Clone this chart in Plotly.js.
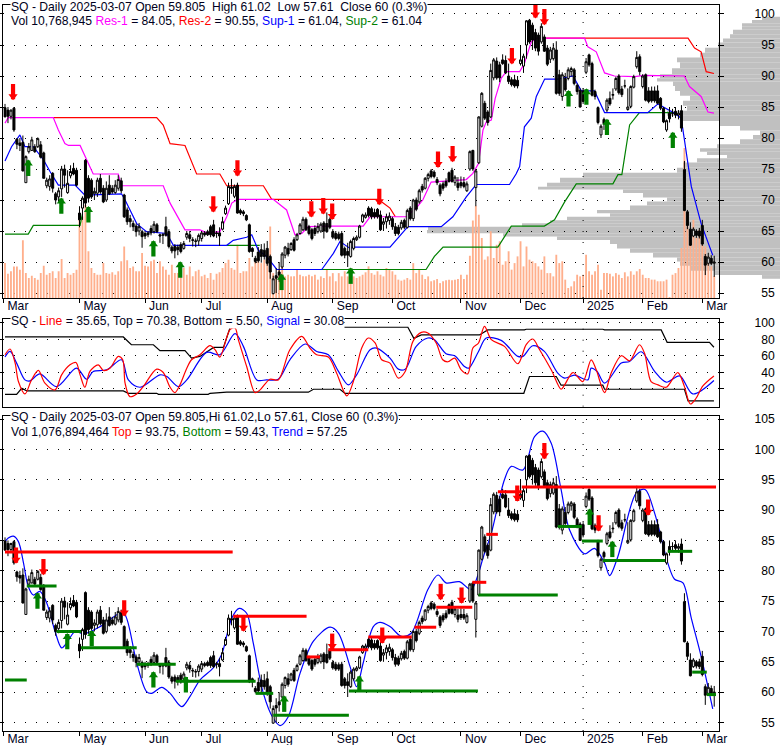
<!DOCTYPE html>
<html><head><meta charset="utf-8">
<script src="https://cdn.plot.ly/plotly-3.0.1.min.js"></script>
<style>html,body{margin:0;padding:0;background:#fff}#c{width:780px;height:745px}</style>
</head><body><div id="c"></div>
<script>
const monthTicks=[-0.5,25,47,66,88,110,130,153,173,194,214,234];
const monthLabels=['Mar','May','Jun','Jul','Aug','Sep','Oct','Nov','Dec','2025','Feb','Mar'];
const opens=[84.9,84.5,83.5,84.8,79.8,79.2,79.3,72.8,77.8,78,
78.6,78.6,78.9,77.6,72.3,72.2,74.3,71,70.5,71.8,
75,71.2,73.9,75.1,74.8,67.9,68.7,76.4,73.5,73.2,
71,71.1,73.5,71.9,70,72.4,71.9,71.2,71.9,73.1,
70.8,68.4,67,66.2,65.8,65,64.9,64.6,64.7,65.4,
64.9,66,64.4,64.3,65.7,64.9,62.4,62.5,62.4,62.8,
62.2,64,64.4,63.6,63.3,63.4,63.8,64.7,64.9,65.7,
66,64.7,64.7,65.3,67.8,69.4,72.1,70.6,72.4,68.3,
68.1,67.5,66,62.2,60.6,61.6,62,61.9,62.2,60.9,
54.9,57.8,58.4,59.2,61.1,62.2,62,63.6,63.6,64.6,
65.2,66.9,65.7,65.2,65.4,64.9,65,66.3,66.2,66.9,
64.9,64.6,64.5,64.6,62.2,61.7,60.9,62.2,63.6,64,
66.5,67.2,68.7,68.6,68,68.5,67.6,66.1,66.5,66.7,
67,65.7,65.6,65.5,66.7,65.6,68.7,67,70,69.7,
72.2,71.9,73.5,74.7,74.5,73.3,72.4,72.6,73,74.4,
74.8,72.8,72.7,72.8,72.8,71.5,75,78,72,76,
81.9,85.6,84.2,83.4,89.7,92.4,91.8,92.6,92.5,90,
89.4,89.4,89.3,92,91.6,95,99,98.2,97,96.6,
95.5,96.3,94.5,92.7,92.8,94.2,90.2,86.7,89.6,89.6,
90.7,91,88.5,87.7,87.6,90.6,93.4,92,87.5,84.9,
80.5,83,84.5,86.4,86.9,87.9,90,87.9,88.4,84.6,
85.1,88.2,91.5,93.1,88.3,90.2,87.6,87.6,87.6,87.6,
86.4,84.8,81.3,84,84,84.3,83.7,84.4,74.9,68.1,
65.3,64.2,65,65,65.9,60.9,59.8,60.6,59.805];
const highs=[85.5,85,84.6,85,80,80,80.4,77.2,79.2,80.2,
79,80.1,79.5,77.8,73.6,74,74.5,71.3,72,75.5,
75.7,74.8,75.6,76,75.2,69,70.6,76.6,74,73.5,
72,73.6,74.2,72.4,73,74,72.4,73.2,74,73.6,
71,68.8,67.6,66.7,66.2,66.3,65.2,65,65,65.9,
66.6,66.3,64.6,64.7,67.3,65.3,62.7,62.9,62.8,63.2,
63.4,65,65,64,63.8,64.6,65,65,65.2,66,
66.8,65,65.6,67.3,69.1,72.8,73.4,72.5,72.8,68.6,
68.4,67.7,66.2,62.4,61,62.4,62.9,63,63.4,61.2,
57.8,59,60,61.6,62.6,63.1,63.2,64,64.7,66.3,
67.3,67.2,66,65.5,65.9,66.3,66.4,66.6,68,67.2,
65.3,65,64.9,65,62.5,63.1,63.6,64.1,64.3,66,
67.8,68,69,68.9,68.6,68.7,68.3,67.1,67.8,68,
67.3,66.3,66,66.8,67,68.6,69,70.2,70.4,71.8,
72.6,73.7,74.4,75,74.8,73.7,72.7,73,73.5,74.6,
75.2,74,73.7,73.8,73.7,73,78,78.1,75,83.5,
87.4,86,84.5,92,92.9,93,92.3,93.5,93.3,92,
89.8,90.2,90,95,93.6,99,99.2,98.6,97.6,97,
98.5,96.7,95,94.7,95.3,95.6,91,90.6,90.5,91.4,
91.5,91.3,88.8,88,88,92.9,93.6,92.3,87.8,85.1,
82.2,83.3,86.4,87.5,88,89.9,90.3,88.4,89.4,88,
88.5,90.2,94,93.5,90.3,90.4,88.2,88.3,88.3,88.5,
86.6,85,83,85,84.7,85,84.5,85.3,76.3,68.4,
66.4,65.6,65.3,65.5,66.8,61.3,61.5,61.1,61.02];
const lows=[83.4,82.4,83,81,78.2,77.9,74.6,72.8,77.5,77.9,
77.6,78.4,76.7,73.5,71.9,71.5,71.2,69.3,69.7,70.5,
72,71,73.5,74,72.2,65.6,66.8,68.8,69.6,70.2,
70,70.5,71,69.5,69.7,70.8,71,71,71.5,71.1,
67.1,66,65.6,65,64.1,64.3,62.3,63.7,64,64.3,
64.6,64.7,63.1,62.9,64.1,62.2,61.4,60.6,61.1,61.4,
62,63.6,63.2,62.5,62.4,62.6,63.3,64.1,64.2,64,
64,63.9,62.6,65.1,67.6,69.2,71,70.3,67.8,67.6,
67.4,66.6,61.5,60.8,59.8,59.9,59.9,60.4,59.4,57.3,
54.8,55,56.8,58.9,60.6,60.9,61.8,61.7,63.4,64.4,
65,65,64.3,63.5,64.2,64.6,64.7,63.8,64.7,65.3,
63.7,63.5,63.5,60.9,60.6,59.2,60.7,61.9,63.4,63.8,
66.3,67,67.2,66.9,67,67,65,65,65.4,66,
65.2,64.2,64.3,65.2,65.3,65.4,66.7,66.6,68.2,69.4,
71.2,71.7,73,73.5,73.5,72.4,70.6,71.5,72,72.8,
72.8,72.3,71.5,71.9,71.9,71.3,74.7,74.7,69,75.8,
81.7,82.9,82,83.2,89.3,89.4,89,91.8,90.3,88.7,
88.3,88.1,88,91.7,90.5,92.8,95.2,94.2,94,93.3,
95.2,93.9,91.6,92.1,92.5,87,86.8,86,87.5,89.3,
89.9,88.5,87,84.9,85.5,90.3,91.5,86.7,86.2,82.2,
80,81.3,84.2,85.2,86.2,87.6,87,86.6,88,84.4,
84.8,88,91.2,90.1,88,85.9,85.6,85.7,85.7,85.4,
84.5,82.4,81,82.5,83.4,83.2,83,81,68.2,65.3,
62.6,64,63.9,63.8,62.6,57.9,59.4,59.5,57.61];
const closes=[83.4,83.5,84.5,81.3,79,78.8,74.7,77,78.6,79.7,
77.8,79.9,76.9,73.5,73.2,73.4,71.9,70,71.5,75,
74,72.7,74.6,74.2,72.4,66.8,70.3,69.5,70.3,70.5,
71.4,73.2,71.3,69.7,71.9,71,71.3,72.4,73.3,71.5,
67.3,66.5,66.5,65.7,64.9,65.7,64.1,64.2,64.4,64.7,
66.1,64.9,64.2,64.4,64.3,62.5,61.8,61.8,62,61.7,
63,64.6,63.8,63.5,63.4,64.3,64.7,64.4,64.4,64.4,
64.2,64.6,64.2,66.5,68.7,72.2,71.9,72.2,67.9,67.9,
67.8,66.8,61.7,61.7,60.1,60.2,60.9,60.9,59.8,58.4,
57.3,57.4,57.9,61.3,62.4,61.3,63,61.9,64.4,66,
66.9,65.2,64.6,63.8,64.6,65.7,66.1,65,64.9,65.6,
64,63.8,63.8,61.1,61.1,61.1,63.3,63.8,64,65.8,
67.6,67.6,67.5,67.3,67.3,67.3,65.2,66.5,67.3,67.4,
65.7,64.6,64.6,66.4,65.6,68.3,67,70,68.5,71.5,
71.6,73.5,74.1,73.8,73.8,72.8,71,71.9,72.3,73,
73,73.7,72,72.3,72.2,72.6,77.8,75,74.7,83.4,
87.2,83.2,82.5,90.9,92.6,89.7,89.7,92,90.5,89.1,
88.6,88.4,88.4,92.6,93.2,98.9,95.5,95.8,94.5,94,
98,94,91.9,94.2,94.5,87.2,87.2,90.2,87.8,91,
91.2,88.8,87.5,85,85.9,92.3,91.8,86.9,86.7,82.5,
81.9,82.3,86.1,85.5,87,89.6,87.3,87,88.4,85,
88.3,89.9,93,90.7,90,86.1,85.9,86,86,85.6,
84.8,82.6,82.8,83.1,84,83.7,84,81.6,68.3,65.9,
62.7,65.3,64.3,64.2,62.9,59.5,60.8,59.8,60];
const volumeMillions=[17.1,11.9,13.1,15.5,15.5,13.9,28.3,12.2,9.8,10.9,
9.8,9,12.2,15.8,11.4,12.2,13.1,9.8,13.1,19.1,
9.8,12.2,11.4,12.2,13.9,39.2,40,45.7,22.9,14.7,
12.2,11.4,11.4,17.1,12.2,11.9,12.6,11.4,13.1,18,
25.3,18.5,14.7,15.5,13.1,13.1,22,15.8,15.5,18,
18.8,12.2,18,15.5,13.9,11.4,16.3,12.2,12.2,15.5,
14.7,11.4,15.5,10.6,13.1,13.9,10.6,11.4,9.8,12.2,
9,11.9,12.6,14.7,17.1,18.8,14.7,13.9,26.1,12.2,
13.1,13.1,19.6,15.5,18,18,17.1,18.8,22.9,35.1,
12.2,10.6,13.9,15.5,10.6,11.4,10.6,10.6,13.9,11.4,
10.6,10.6,11.4,10.6,11.4,9,10.6,9.8,13.9,10.6,
12.2,8.2,12.2,10.6,13.1,10.6,14.7,10.6,9.8,10.6,
11.4,12.6,15.5,12.2,11.4,13.1,11.4,10.6,14.7,13.9,
13.1,11.4,9,8.5,9,9.8,9,17.1,12.2,13.9,
11.4,9.3,10.6,8.2,8.7,9.3,7.3,8.2,8.7,9,
8.7,9,9.3,11.4,9.3,11.4,20.7,38,45.2,40.8,
29.4,18.8,20.4,32.7,19.6,26.1,27.8,16.3,18,22.9,
13.9,17.1,20.4,27.8,15.5,25.3,18.8,18,17.1,15.5,
13.9,20.4,12.2,12.2,10.6,21.2,17.1,18,9,4.9,
5.7,8.2,11.4,10.6,11.4,21.2,13.1,11.4,13.1,16.3,
4.1,12.2,12.2,11.9,10.6,12.2,11.4,9.8,12.6,10.6,
13.1,11.4,13.1,14.2,11.4,9.8,9.8,9,9,8.2,
8.2,8.2,9,0.5,11.4,12.2,14.7,24.5,73.5,41.6,
26.1,38.4,29.4,33.5,26.1,25.3,20.4,15.5,10.77];
const profilePrice=[99.3,98.8,98.2,97.7,97.2,96.3,95.8,95,94.1,93.4,92.6,91.8,90.7,89.9,89.4,88.8,88,87.2,86.4,85.6,84.8,84,83.2,82.3,81.6,80.8,80.2,79.4,78.6,78.1,77.5,77,76.5,75.6,74.8,74,73.2,72.4,71.9,71.5,70.8,70,69.5,68.7,68.1,67.6,67,66.5,66,65.4,64.9,64.4,63.8,63.3,62.5,61.9,61.1,60.4,59.8,59,58.2,57.6];
const profileVolume=[18,28,38,38,47,50,57,62,75,80,103,100,108,120,123,107,105,100,90,97,93,113,98,60,40,20,27,40,63,80,73,53,83,97,103,197,220,233,242,157,137,113,133,150,183,170,213,230,258,352,353,277,223,170,163,150,127,103,100,90,65,18];
const res1Day=[0,1.1,16.2,17.9,20.1,21.3,25.2,26.8,29.6,38,39.1,53.1,55.4,60.4,65.4,67.7,72.1,74.4,76.1,78,90,94.5,97.3,99.6,101.8,108.5,120.2,122.5,134.6,138,140.2,143,154.8,157,158.9,160.4,161.5,163.2,164.5,166.5,168.2,172.7,174.3,176.6,178.3,194.5,195.6,198.4,201.2,204.5,211.3,214.6,228,229.7,233.6,235.9,237.9];
const res1Val=[82.4,83.3,83.3,81.3,79.1,78.8,78.8,77.2,74.2,74.2,72.3,72.3,69.5,65.2,65.2,64.7,64.9,67.3,69.5,70.1,70.1,68.4,64.4,64.6,65.7,65.8,65.8,67.3,67.3,68.7,70,72.9,73.3,74.3,75.9,81.3,82.6,82.9,86.4,89.6,90.7,90.7,92,95.5,96.1,96.1,94.7,93.9,90.5,90,89.9,90.1,90,88.3,86.7,84.2,84];
const res2Day=[16.2,50.9,53.1,55.4,60.4,64.3,72.1,74.4,86.7,89.5,125.3,129.2,131,null,181.6,229.2,231.4,233.6,235.3,237.9];
const res2Val=[83.3,83.3,82.1,79.1,78.8,74.2,74.2,72.3,72.3,70.1,70.1,68.7,67.3,null,96.1,96.1,94.5,93.9,90.7,90.4];
const sup1Day=[0,2.2,5,6.7,9.5,12.9,15.1,17.9,23.5,26.8,39.1,40.3,44.2,47.5,54.3,56.5,74.4,76.6,81.1,82.8,85,87.8,91.2,106.3,110.2,112.4,115.8,116.9,129.2,132.4,135.2,146.4,150.3,154.8,158.1,169.3,171.5,172.7,174.3,176.6,178.3,181.1,185.5,190.6,193.4,197.8,201.2,215.7,219.1,224.7,226.9,228,230.3,233.6,237.5];
const sup1Val=[76.3,78.6,80.5,78.6,78.6,76.5,74.6,72.4,72.4,70.8,71,70,66.2,64.9,64.6,62.7,62.7,63.5,64,64.4,61.9,60.9,58.8,58.8,61.4,63.3,62.2,62.4,62.4,64.1,65.7,65.7,67.3,70.5,72.5,72.5,74.2,75.4,81.8,83.2,86.7,89.5,89.5,90,87.6,87.6,84.1,84.1,85.5,84,83.2,79.7,72.2,66.2,61.1];
const sup2Day=[0,7.8,9.5,25.2,26,null,74.4,85.5,null,106.3,141.3,144.1,147,165.4,169.9,181,184.4,187.8,191.7,204,205.7,207,209.6,212.9,224.7];
const sup2Val=[64.5,64.5,65.9,65.9,67.8,null,62.7,62.7,null,58.8,58.8,60.9,62.4,62.4,65.8,65.8,66.8,69.7,72.6,72.6,74.1,74.1,82.1,84.1,84.1];
const redArrowDay1=[2.7,69.9,78,102.8,106.8,109.8,125.6,145.3,150.2,170.1,178,181];
const redArrowVal1=[86.1,68,73.8,67.2,67.7,66.8,69.2,75.2,76.1,91.9,99.3,98.2];
const greenArrowDay1=[7.8,18.9,28,49.8,58.8,92.8,116,189.1,195.1,202,224.1];
const greenArrowVal1=[76.5,70.4,69,63.5,60.1,58.1,59.1,87.7,88,83.1,81];
const lineDay=[0,1.7,3.4,4.5,6.7,8.9,11.2,13.4,16.8,19,21.8,23.8,25.2,26.8,28.5,31.3,33,35.2,38,39.5,40.3,41.9,44.2,46.4,50.9,53.1,55.4,57,58.7,61,62.6,65.4,68.8,70.5,72.1,75.5,77.2,78.3,81.1,83.9,85.6,88.9,91.7,95.6,99.6,102.3,104.6,108.5,111.3,114.7,116.9,119.7,121.9,124.2,126.4,129.2,132,134.3,136.9,139.7,141.9,144.7,146.9,148.6,150.9,153.1,155.3,157,158.9,160.9,163.2,167.6,172.1,174.9,177.1,179.4,183.3,186.6,187.8,190.6,193.9,196.7,198.4,201.2,203.4,206.8,209.6,212.9,214.6,216.8,219.1,221.9,225.8,228,230,231.9,234.2,237.9];
const lineVal=[61.3,68.2,51.2,28.9,13.9,30.9,42.3,26.9,18.8,37,49.1,52,37,22,41.1,49.1,42.3,45.1,59.3,55.2,26.9,10.7,13.9,22.8,43.9,39.8,22,15.5,24.9,45.1,55.2,61.3,72.2,67.4,58.5,91.7,93.7,79.5,47.1,15.5,18.8,31.7,30.9,67.4,83.6,69.4,61.3,58.5,39,11.5,28.9,69.4,81.5,75.5,55.2,51.2,33,41.1,77.5,88.4,87.6,75.5,55.2,52.8,57.2,43.1,38.2,69.4,75.5,95.7,79.5,71.4,50.4,73.4,80.3,67.4,43.1,19.6,24.9,39.8,28.9,55.2,43.1,15.5,39,60.1,54,73.4,63.3,28.9,24.9,22,39.8,22.8,1.8,8.7,23.6,35.65];
const signalDay=[0,1.7,3.9,6.7,8.4,11.7,17.3,24,27.4,29.6,34.1,39.1,41.4,45.3,52,54.3,58.2,61,67.7,72.1,77.2,80,84.5,87.8,91.7,95.6,100.7,104.6,108.5,111.9,115.2,118,122.5,124.7,129.2,132,134.3,138,141.9,144.1,148,150.9,154.2,155.6,158.9,161.5,166.5,172.1,173.8,177.1,181,185.5,187.8,191.1,195.6,196.7,198.7,201.2,206.8,209.6,213.5,218,221.9,226.4,230.8,237.9];
const signalVal=[58.5,65.3,51.2,30.9,29.7,38.2,22.8,45.1,31.7,41.1,43.1,55.2,30.9,22,37,35,22.8,30.9,64.1,61.3,86.8,71.4,30.9,30.9,31.7,55.2,74.3,65.3,61.3,41.1,24.9,37,67.4,69.4,57.2,43.9,43.9,71.4,81.5,79.5,62.5,60.1,47.1,45.1,65.3,81.5,78.7,59.3,59.3,72.2,65.3,39,33,36.6,30.9,45.1,41.1,26.9,51.2,53.2,64.9,41.1,28.1,35.8,13.9,30.08];
const topDay=[0,39.7,42.4,49.8,52,60.4,62.6,65.4,70,73.3,75.5,77,null,113.5,135.2,137.2,139.7,159.2,162,174.3,174.9,200.6,201.2,220.2,222.2,236.4,237.9];
const topVal=[82.8,82.8,73.4,73.4,66.2,66.2,57.2,59.3,70.2,70.2,93.7,98,null,94.5,94.5,81.1,85.2,85.2,91.3,91.3,92.1,92.1,91.3,91.3,76.3,76.3,70.38];
const bottomDay=[0,3.9,5.6,7.3,39.7,41.4,50.9,51.5,68.2,68.8,74.4,101.8,103.5,112.4,114.1,174.1,176,185,186.6,200.6,201.2,228,229.2,237.9];
const bottomVal=[13.5,13.5,20.8,17.6,17.6,14.7,14.7,13.5,13.5,14.7,16,16,19.6,19.6,14.7,14.7,35,35,24.5,24.5,19.6,19.6,5.5,5.5];
const trendDay=[0,1.1,2.8,4.5,6.2,7.8,9.5,11.7,14,16.8,19,20.7,23.5,26.3,31.9,38.6,40.3,44.2,47.5,49.2,52.6,55.4,59.3,62.1,65.4,69.9,72.7,76.1,78.6,81.1,83.3,86.7,90,92.3,95.1,99,103.5,109.1,111.9,115.8,118,120.2,123.6,125.8,129.2,133,136.3,141.9,145.3,148,152.5,156.4,158.9,160.4,163.2,167.6,169.9,173.8,177.7,180.5,183.3,186.6,189.4,194.5,197.8,201.2,202.9,205.7,211.8,214.8,218,222.4,224.7,227.5,230.3,233.6,237.5];
const trendVal=[84.8,85.4,85.7,84.8,81.3,77.4,76,76.6,74.7,70,67.3,68.1,70,69.6,70.8,73,72.7,64.8,60.1,59.8,60.8,59.8,57.6,59.3,62,64,66.2,72.2,73.8,73,68.1,59.8,55.7,54.5,56,63.1,68.4,70.7,69.7,64.2,60.9,64.8,70.8,71.5,70.8,69.2,69.7,76.9,79.3,78,78.2,76.9,79.6,82.1,86.2,95,97.2,96.6,102.1,103,101,93.4,86.8,82.8,83.7,81.3,79.2,82.4,92.8,93.4,89.5,81.3,78.6,78,72.2,65.9,57.25];
const topLevelDay=[0,76.4,null,76.6,101.2,null,101.2,105.7,null,108.5,121.9,null,121.9,136.5,null,137.4,144.7,null,144.7,156.8,null,156.8,161.5,null,161.5,165.4,null,165.4,173.4,null,173.4,238.6];
const topLevelVal=[83.1,83.1,null,72.5,72.5,null,65.8,65.8,null,67,67,null,69.1,69.1,null,70.7,70.7,null,74,74,null,78.1,78.1,null,86,86,null,93,93,null,93.8,93.8];
const bottomLevelDay=[0,7.3,null,7.3,17.3,null,17.3,25.5,null,25.5,44.2,null,44.2,57.3,null,57.3,84.1,null,84.1,90,null,90,115.4,null,115.4,158.7,null,158.9,185.5,null,185.5,193.6,null,193.6,200.6,null,200.6,221.5,null,222.4,230.6,null,230.6,235.5,null,235.5,238.6];
const bottomLevelVal=[62,62,null,77.5,77.5,null,70,70,null,67.3,67.3,null,64.6,64.6,null,61.8,61.8,null,59.8,59.8,null,56.2,56.2,null,60.2,60.2,null,76,76,null,87.3,87.3,null,84.9,84.9,null,81.7,81.7,null,83.2,83.2,null,63.3,63.3,null,59.6,59.6];
const redArrowDay3=[3.7,12.9,40,80,109.8,126.6,146.2,153.2,171.9,181,199.2,215.8];
const redArrowVal3=[81.2,79.3,72.5,70,67,68,75.2,74.6,91.4,98.4,86.5,89.1];
const greenArrowDay3=[10.9,20.9,29.1,49.8,60.7,93.7,118.9,196.2,203.8];
const greenArrowVal3=[76.4,69.7,70.2,63.4,62.6,59.4,62.7,90.2,84.9];

const FONT='"Liberation Sans", Arial, sans-serif';
const W=780,H=745;
const xDom=[3.3/W,719/W];
const dom=(top,bot)=>[(H-bot)/H,(H-top)/H];
const xRange=[-0.57,239.6];
const RED='#FF0000',GREEN='#008000',BLUE='#0000FF',MAG='#FF00FF',BLK='#000000',SALMON='#FFAF8C',GREY='#C0C0C0';
const day=opens.map((_,i)=>i);
const priceAxisBottom=54.2;
const volScale=0.329;

const line=(x,y,color,width,xa,ya,smooth)=>({type:'scatter',mode:'lines',x,y,xaxis:xa,yaxis:ya,hoverinfo:'skip',showlegend:false,connectgaps:false,
  line:smooth?{color,width,shape:'spline',smoothing:0.9}:{color,width}});
const candle=(xa,ya)=>({type:'candlestick',x:day,open:opens,high:highs,low:lows,close:closes,xaxis:xa,yaxis:ya,hoverinfo:'skip',showlegend:false,whiskerwidth:0,
  increasing:{line:{color:BLK,width:1},fillcolor:'#FFFFFF'},decreasing:{line:{color:BLK,width:1},fillcolor:BLK}});
const pts=(x,y,symbol,size,color,xa,ya,lw)=>({type:'scatter',mode:'markers',x,y,xaxis:xa,yaxis:ya,hoverinfo:'skip',showlegend:false,
  marker:{symbol,size,color,line:{color,width:lw||0}}});
const arrows=(x,tips,color,dir,xa,ya)=>{
  const head=tips.map(v=>v+dir*-0.62), shaft=tips.map(v=>v+dir*-1.38);
  return [pts(x,shaft,'line-ns',11,color,xa,ya,4.2),pts(x,head,dir<0?'triangle-down':'triangle-up',8,color,xa,ya,0)];
};
const vGrid=(xa,ya,lo,hi)=>({type:'scatter',mode:'lines',x:[monthTicks[9],monthTicks[9]],y:[lo,hi],xaxis:xa,yaxis:ya,hoverinfo:'skip',showlegend:false,line:{color:BLK,width:1,dash:'1px,10px'}});

// each profile row spans from the midpoint with the row above to the midpoint with the row below
const profileTop=profilePrice.map((p,i,a)=>i>0?(a[i-1]+p)/2:p+(p-a[i+1])/2);
const profileBot=profilePrice.map((p,i,a)=>i<a.length-1?(a[i+1]+p)/2:p-(a[i-1]-p)/2);
const traces=[
  {type:'bar',orientation:'h',y:profilePrice,x:profileVolume,width:profileTop.map((t,i)=>t-profileBot[i]),offset:profileBot.map((b,i)=>b-profilePrice[i]),xaxis:'x',yaxis:'y',hoverinfo:'skip',showlegend:false,marker:{color:GREY,line:{width:0}}},
  {type:'bar',x:day,y:volumeMillions.map(v=>v*volScale),base:priceAxisBottom,width:0.62,xaxis:'x4',yaxis:'y4',hoverinfo:'skip',showlegend:false,marker:{color:SALMON,line:{width:0}}},
  vGrid('x4','y4',54.2,101.4),
  line(sup2Day,sup2Val,GREEN,1.2,'x4','y4'),
  line(res2Day,res2Val,RED,1.2,'x4','y4'),
  line(res1Day,res1Val,MAG,1.2,'x4','y4'),
  line(sup1Day,sup1Val,BLUE,1.2,'x4','y4'),
  candle('x4','y6'),
  ...arrows(redArrowDay1,redArrowVal1,RED,-1,'x4','y6'),
  ...arrows(greenArrowDay1,greenArrowVal1,GREEN,1,'x4','y6'),
  vGrid('x2','y2',-1.5,104.5),
  line(topDay,topVal,BLK,1.2,'x2','y2'),
  line(bottomDay,bottomVal,BLK,1.2,'x2','y2'),
  line(signalDay,signalVal,BLUE,1.2,'x2','y2',true),
  line(lineDay,lineVal,RED,1.2,'x2','y2',true),
  vGrid('x3','y3',53.6,105.45),
  line(trendDay,trendVal,BLUE,1.2,'x3','y3',true),
  candle('x3','y5'),
  line(topLevelDay,topLevelVal,RED,3,'x3','y5'),
  line(bottomLevelDay,bottomLevelVal,GREEN,3,'x3','y5'),
  ...arrows(redArrowDay3,redArrowVal3,RED,-1,'x3','y5'),
  ...arrows(greenArrowDay3,greenArrowVal3,GREEN,1,'x3','y5'),
];
const xAxis=(anchor,labels)=>({domain:xDom,range:xRange,anchor,type:'linear',fixedrange:true,showgrid:false,zeroline:false,rangeslider:{visible:false},
  showline:true,linecolor:BLK,linewidth:1,mirror:true,
  tickmode:'array',tickvals:labels?monthTicks:[],ticktext:labels?monthLabels:[],ticks:labels?'outside':'',ticklen:4,tickcolor:BLK,
  ticklabelposition:'outside right',ticklabelstandoff:-4,ticklabelshift:3,tickfont:{family:FONT,size:12.15,color:'#000020'},showticklabels:labels});
const pad=t=>{const s=String(t);return s.length<3?'\u00A0\u00A0'+s:s;};
const yAxis=(d,r,tv,anchor)=>({domain:d,range:r,anchor,side:'right',fixedrange:true,type:'linear',zeroline:false,
  showline:true,linecolor:BLK,linewidth:1,mirror:'allticks',ticks:'outside',ticklen:4,tickcolor:BLK,
  tickmode:'array',tickvals:tv,ticktext:tv.map(pad),tickfont:{family:FONT,size:12.15,color:BLK},ticklabelstandoff:28,
  showgrid:true,gridcolor:BLK,gridwidth:1,griddash:'1px,10px'});
const overlay=(d,r,over,anchor)=>({domain:d,range:r,overlaying:over,anchor,side:'left',fixedrange:true,visible:false,showgrid:false,zeroline:false});
const note=(text,y)=>({xref:'paper',yref:'paper',x:10/W,y:(H-y)/H,xanchor:'left',yanchor:'middle',showarrow:false,align:'left',
  text,bgcolor:'#FFFFFF',borderpad:0,font:{family:FONT,size:12.15,color:'#000020'}});
const c=(t,col)=>`<span style="color:${col}">${t}</span>`;
const N='\u00A0';
const annotations=[
  note(`SQ - Daily 2025-03-07 Open 59.805${N}${N}High 61.02${N}${N}Low 57.61${N}${N}Close 60 (0.3%)`,7),
  note(`Vol 10,768,945 ${c('Res-1',MAG)} = 84.05, ${c('Res-2',RED)} = 90.55, ${c('Sup-1',BLUE)} = 61.04, ${c('Sup-2',GREEN)} = 61.04`,21),
  note(`SQ - ${c('Line',RED)} = 35.65, Top = 70.38, Bottom = 5.50, ${c('Signal',BLUE)} = 30.08`,321),
  note(`SQ - Daily 2025-03-07 Open 59.805,Hi 61.02,Lo 57.61, Close 60 (0.3%)`,417),
  note(`Vol 1,076,894,464 ${c('Top',RED)} = 93.75, ${c('Bottom',GREEN)} = 59.43, ${c('Trend',BLUE)} = 57.25`,431.5),
];
const d1=dom(5,298),d2=dom(319,406.7),d3=dom(416.3,731);
const r1=[54.2,101.45],r2=[-1.5,104.5],r3=[53.6,105.45];
const layout={width:W,height:H,autosize:false,margin:{l:0,r:0,t:0,b:0,pad:0},paper_bgcolor:'#FFFFFF',plot_bgcolor:'rgba(0,0,0,0)',
  showlegend:false,barmode:'overlay',boxgap:0.04,hovermode:false,dragmode:false,annotations,
  xaxis:{domain:[3.3/W,1],range:[776.7,0],anchor:'y',visible:false,fixedrange:true,showgrid:false,zeroline:false},
  yaxis:{domain:d1,range:r1,anchor:'x',visible:false,fixedrange:true,showgrid:false,zeroline:false},
  xaxis4:xAxis('y4',true),xaxis2:xAxis('y2',false),xaxis3:xAxis('y3',true),
  yaxis4:yAxis(d1,r1,[55,60,65,70,75,80,85,90,95,100],'x4'),
  yaxis2:yAxis(d2,r2,[20,40,60,80,100],'x2'),
  yaxis3:yAxis(d3,r3,[55,60,65,70,75,80,85,90,95,100,105],'x3'),
  yaxis6:overlay(d1,r1,'y4','x4'),
  yaxis5:overlay(d3,r3,'y3','x3')};
Plotly.newPlot('c',traces,layout,{displayModeBar:false,staticPlot:true});
</script></body></html>
